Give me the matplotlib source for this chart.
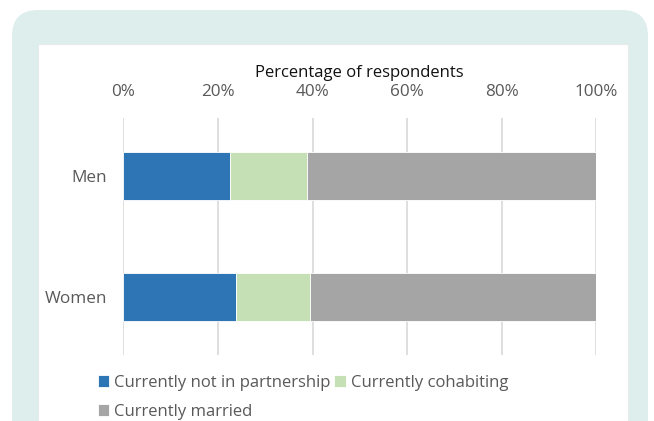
import matplotlib.pyplot as plt
from matplotlib.patches import FancyBboxPatch, Rectangle

groups = ["Men", "Women"]
not_partnered = [22.5, 23.9]
cohabiting = [16.3, 15.6]
married = [61.2, 60.5]
series_names = ["Currently not in partnership", "Currently cohabiting", "Currently married"]
colors = ["#2e75b6", "#c5e0b4", "#a5a5a5"]
xticks = [0, 20, 40, 60, 80, 100]

plt.rcParams['font.family'] = ['Open Sans', 'DejaVu Sans']

W, H = 654, 421
fig = plt.figure(figsize=(W / 100, H / 100), dpi=100)

# teal frame and white panel
fig.patches.append(FancyBboxPatch((12 / W, -0.2), 636 / W, (H - 10) / H + 0.2,
                                  boxstyle="round,pad=0,rounding_size=0.04",
                                  transform=fig.transFigure, facecolor="#ddeeed",
                                  edgecolor="none", zorder=0, mutation_aspect=W / H))
fig.patches.append(Rectangle((38 / W, 0), 590 / W, 1 - 44 / H, transform=fig.transFigure,
                             facecolor="white", edgecolor="#e6ecec", lw=0.8, zorder=1))

ax = fig.add_axes([123.5 / W, 1 - 355 / H, (596 - 123.5) / W, (355 - 118) / H])
ax.set_facecolor("none")
ax.set_zorder(2)

y = list(range(len(groups)))
h = 0.4
left = [0] * len(groups)
handles = []
for vals, name, c in zip([not_partnered, cohabiting, married], series_names, colors):
    b = ax.barh(y, vals, height=h, left=left, color=c, edgecolor="white", linewidth=0.6,
                label=name, zorder=3)
    handles.append(b)
    left = [l + v for l, v in zip(left, vals)]

ax.set_xlim(0, 100)
ax.set_ylim(1.48, -0.48)
ax.set_xticks(xticks)
ax.set_xticklabels([f"{t}%" for t in xticks])
ax.xaxis.tick_top()
ax.xaxis.set_label_position("top")
ax.set_xlabel("Percentage of respondents", fontsize=12, color="#111111", labelpad=5)
ax.set_yticks(y)
ax.set_yticklabels(groups)
ax.tick_params(axis="both", length=0, labelsize=12.3, labelcolor="#595959")
ax.tick_params(axis="x", pad=13)
ax.tick_params(axis="y", pad=12)
ax.grid(axis="x", color="#d9d9d9", linewidth=1.2, zorder=0)
ax.set_axisbelow(True)
for s in ax.spines.values():
    s.set_visible(False)

order = [0, 2, 1]
fig.legend([handles[i] for i in order], [series_names[i] for i in order],
           ncol=2, loc="upper left", bbox_to_anchor=(86 / W, 1 - 363 / H),
           frameon=False, fontsize=12, labelcolor="#595959",
           handlelength=0.7, handleheight=0.7, handletextpad=0.3,
           columnspacing=0.2, labelspacing=0.8, borderpad=0.2)

fig.savefig("out.png", dpi=100)
